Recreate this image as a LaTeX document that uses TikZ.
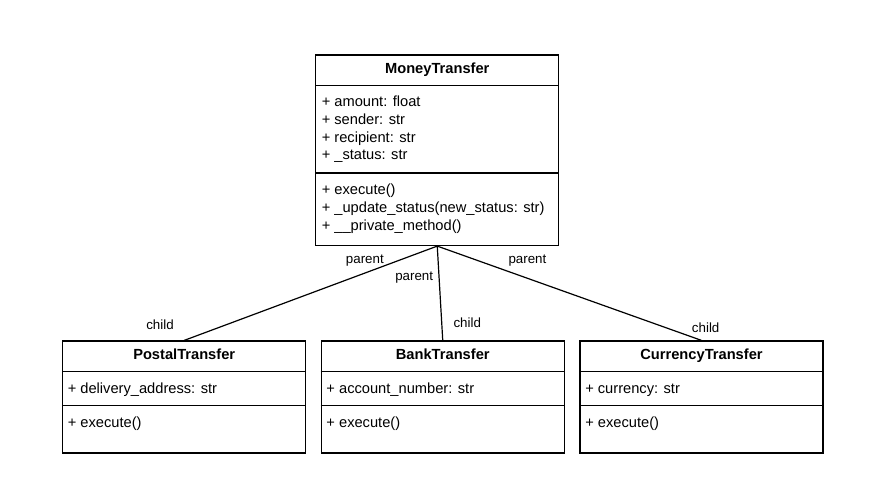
\documentclass[tikz,border=0pt]{standalone}
\usepackage{fontspec}
\setmainfont{Liberation Sans}
\begin{document}
\begin{tikzpicture}[x=0.75pt,y=-0.75pt,
  umlbox/.style={draw=black, line width=0.9pt, fill=white, minimum width={243*0.75pt}, inner sep=0pt},
  divider/.style={draw=black, line width=0.9pt},
  conn/.style={draw=black, line width=0.9pt},
  title/.style={font=\fontsize{11}{13.5}\selectfont\bfseries, anchor=base, inner sep=0pt},
  member/.style={font=\fontsize{11}{13.5}\selectfont, anchor=base west, inner sep=0pt},
  role/.style={font=\fontsize{10}{12}\selectfont, anchor=base west, inner sep=0pt}]
\useasboundingbox (0,0) rectangle (894,499);
% boxes
\node[umlbox, minimum height={190.5*0.75pt}] (mt) at (437.25,150.25) {};
\node[umlbox, minimum height={112*0.75pt}] (pt) at (184.2,397) {};
\node[umlbox, minimum height={112*0.75pt}] (bt) at (442.75,397) {};
\node[umlbox, minimum height={112*0.75pt}] (ct) at (701.5,397) {};
% dividers
\draw[divider] (mt.west |- 0,85.5) -- (mt.east |- 0,85.5);
\draw[divider] (mt.west |- 0,173) -- (mt.east |- 0,173);
\foreach \b in {pt,bt,ct}{
  \draw[divider] (\b.west |- 0,371.3) -- (\b.east |- 0,371.3);
  \draw[divider] (\b.west |- 0,405.3) -- (\b.east |- 0,405.3);
}
% connectors
\draw[conn] (mt.south) -- (pt.north);
\draw[conn] (mt.south) -- (bt.north);
\draw[conn] (mt.south) -- (ct.north);
% MoneyTransfer text
\node[title] (mtt) at (437.25,73.3) {MoneyTransfer};
\node[member] (mta1) at (321.5,107) {+ amount: float};
\node[member] (mta2) at (321.5,125) {+ sender: str};
\node[member] (mta3) at (321.5,142.5) {+ recipient: str};
\node[member] (mta4) at (321.5,160) {+ \_status: str};
\node[member] (mtm1) at (321.5,195) {+ execute()};
\node[member] (mtm2) at (321.5,212.7) {+ \_update\_status(new\_status: str)};
\node[member] (mtm3) at (321.5,230.5) {+ \_\_private\_method()};
% PostalTransfer
\node[title] (ptt) at (184.2,359.3) {PostalTransfer};
\node[member] (pta) at (67.5,393.3) {+ delivery\_address: str};
\node[member] (ptm) at (67.5,427.3) {+ execute()};
% BankTransfer
\node[title] (btt) at (442.75,359.3) {BankTransfer};
\node[member] (bta) at (326.2,393.3) {+ account\_number: str};
\node[member] (btm) at (326.2,427.3) {+ execute()};
% CurrencyTransfer
\node[title] (ctt) at (701.5,359.3) {CurrencyTransfer};
\node[member] (cta) at (585,393.3) {+ currency: str};
\node[member] (ctm) at (585,427.3) {+ execute()};
% role labels
\node[role] (p1) at (345.7,264) {parent};
\node[role] (p2) at (395,280.7) {parent};
\node[role] (p3) at (508.3,264) {parent};
\node[role] (c1) at (146,330) {child};
\node[role] (c2) at (453.3,327.3) {child};
\node[role] (c3) at (691.7,332.7) {child};
\end{tikzpicture}
\end{document}
